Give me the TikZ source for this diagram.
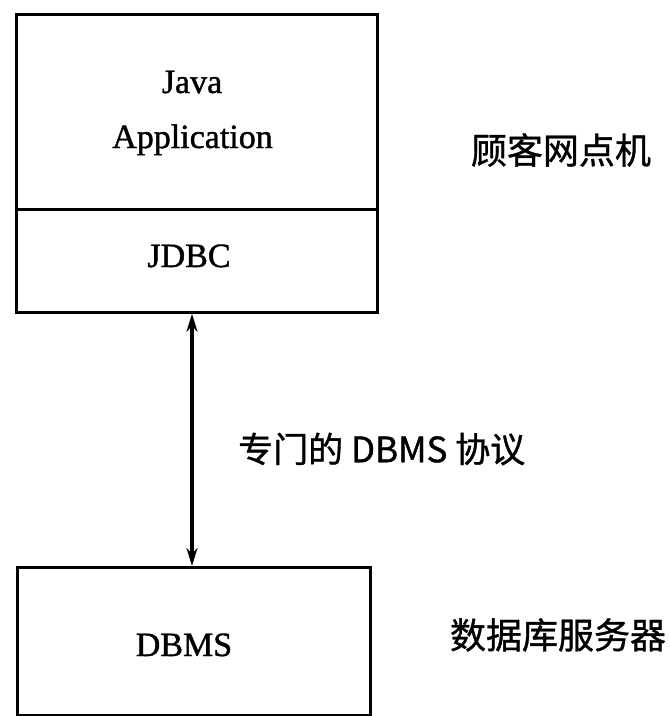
\documentclass[tikz,border=0pt]{standalone}
\usepackage{fontspec}
\setmainfont{Liberation Serif}[FakeBold=1.2]
\newfontfamily\cjk{Noto Sans CJK SC}[FakeBold=1.0]
\usetikzlibrary{arrows.meta}
\tikzset{
  box/.style={draw, line width=2.8pt, rectangle, inner sep=0pt, anchor=north west},
  boxtext/.style={font=\fontsize{34}{40}\selectfont, inner sep=0pt, anchor=base},
  cjktext/.style={font=\cjk\fontsize{36}{40}\selectfont, inner sep=0pt, anchor=center},
  link/.style={line width=3.2pt, {Stealth[length=18pt,width=11pt]}-{Stealth[length=18pt,width=11pt]}}
}
\begin{document}
\begin{tikzpicture}[x=1pt,y=-1pt]
\useasboundingbox (0,0) rectangle (670,716);
\node[box, minimum width=361pt, minimum height=195pt] (app) at (15,13) {};
\node[box, minimum width=361pt, minimum height=103pt] (jdbc) at (15,208) {};
\node[box, minimum width=353pt, minimum height=148pt] (dbms) at (16,566) {};
\node[boxtext] (tjava) at (192,93) {Java};
\node[boxtext] (tapp) at (192.5,148) {Application};
\node[boxtext] (tjdbc) at (189,267) {JDBC};
\node[boxtext] (tdbms) at (184,656) {DBMS};
\node[cjktext] (client) at (561,150) {顾客网点机};
\node[cjktext] (server) at (558,635) {数据库服务器};
\coordinate (ax) at (192,0);
\draw[link] (jdbc.south -| ax) -- (dbms.north -| ax);
\node[font=\cjk\fontsize{35}{40}\selectfont, inner sep=0pt, anchor=west] (proto) at (238,449) {专门的 DBMS 协议};
\end{tikzpicture}
\end{document}
